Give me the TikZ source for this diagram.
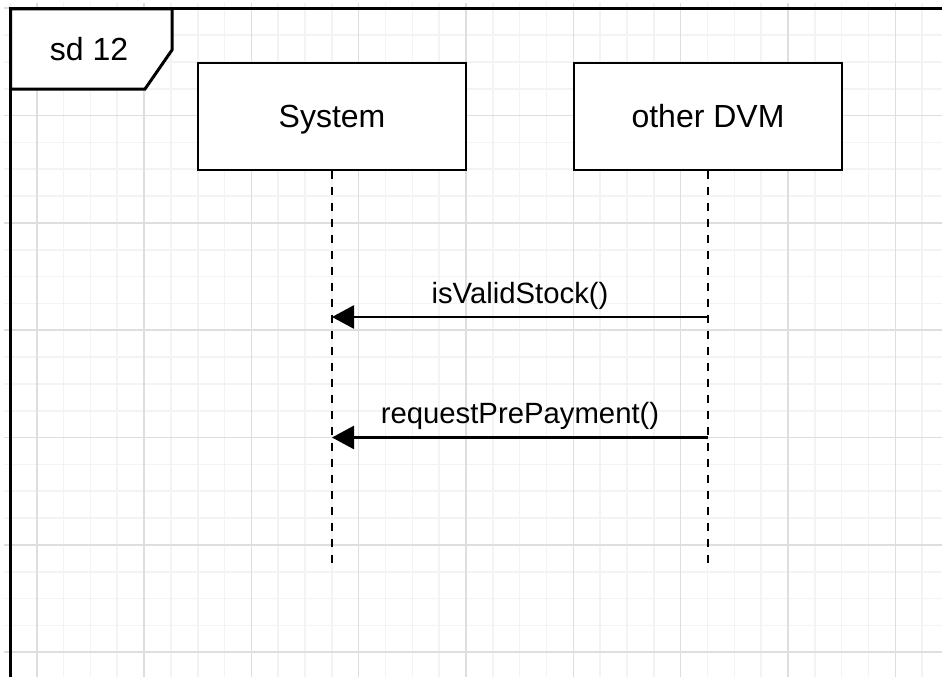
\documentclass[tikz,border=0pt]{standalone}
\usepackage{fontspec}
\setmainfont{Liberation Sans}
\usetikzlibrary{arrows.meta}
\definecolor{gridminor}{HTML}{F3F3F3}
\definecolor{gridmajor}{HTML}{DEDEDE}
\begin{document}
\begin{tikzpicture}[x=1pt,y=-1pt,
  lifebox/.style={draw=black,line width=2.7pt,fill=white,minimum width=268pt,minimum height=107pt,inner sep=0pt,text height=22pt,text depth=0pt,font=\fontsize{32}{38}\selectfont},
  lifeline/.style={line width=2.7pt,dash pattern=on 8pt off 8pt},
  msg/.style={line width=2.7pt,-{Triangle[length=22pt,width=23pt]}},
  msglabel/.style={font=\fontsize{29.3}{35}\selectfont,anchor=base,inner sep=0pt},
  framebox/.style={line width=3pt,line join=miter},
  gridmin/.style={draw=gridminor,line width=1.6pt},
  gridmaj/.style={draw=gridmajor,line width=1.6pt}]
\useasboundingbox (0,0) rectangle (942,677);
\fill[white] (0,0) rectangle (942,677);
\begin{scope}
\clip (4,3) rectangle (942,677);
\foreach \k in {0,...,35} {\draw[gridmin] ({9.9+26.83*\k},3) -- ({9.9+26.83*\k},677);}
\foreach \k in {0,...,25} {\draw[gridmin] (4,{8.3+26.83*\k}) -- (942,{8.3+26.83*\k});}
\foreach \k in {1,5,...,33} {\draw[gridmaj] ({9.9+26.83*\k},3) -- ({9.9+26.83*\k},677);}
\foreach \k in {0,4,...,24} {\draw[gridmaj] (4,{8.3+26.83*\k}) -- (942,{8.3+26.83*\k});}
\end{scope}
\begin{scope}
\clip (0,0) rectangle (942,677);
% frame
\coordinate (ftl) at (10.5,9);
\coordinate (ftr) at (960,9);
\coordinate (fbl) at (10.5,700);
\draw[framebox] (fbl) -- (ftl) -- (ftr);
\draw[framebox,fill=white] (ftl) -- (172,9) -- (172,50) -- (145,89) -- (10.5,89) -- cycle;
\node[font=\fontsize{32}{38}\selectfont,anchor=base,inner sep=0pt] (sd) at (89,60) {sd 12};
% lifelines
\node[lifebox] (sys) at (332,116.5) {System};
\node[lifebox] (dvm) at (708,116.5) {other DVM};
\coordinate (sysend) at (332,563);
\coordinate (dvmend) at (708,563);
\draw[lifeline] (sys.south) -- (sysend);
\draw[lifeline] (dvm.south) -- (dvmend);
% messages
\coordinate (m1a) at (708,317);
\coordinate (m1b) at (332,317);
\coordinate (m2a) at (708,437.5);
\coordinate (m2b) at (332,437.5);
\draw[msg] (m1a) -- (m1b);
\draw[msg] (m2a) -- (m2b);
\node[msglabel] (l1) at (520,303) {isValidStock()};
\node[msglabel] (l2) at (520,423) {requestPrePayment()};
\end{scope}
\end{tikzpicture}
\end{document}
